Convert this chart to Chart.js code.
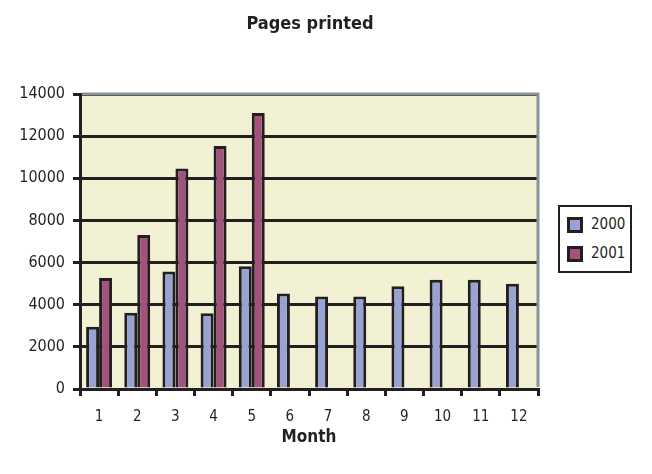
<!DOCTYPE html>
<html>
<head>
<meta charset="utf-8">
<script src="https://cdn.jsdelivr.net/npm/chart.js@4.4.1/dist/chart.umd.min.js"></script>
<style>
  body { margin: 0; background: #fff; }
  #wrap { position: relative; width: 652px; height: 474px; }
  #title { position: absolute; left: 0; width: 620px; top: 12px; text-align: center;
           font: bold 18px "Liberation Sans Narrow", "DejaVu Sans Condensed", sans-serif; color: #231f20; }
  #legend { position: absolute; left: 558px; top: 205px; width: 70px; height: 64px;
            border: 2px solid #231f20; background: #fff;
            font: 15px "Liberation Sans Narrow", "DejaVu Sans Condensed", sans-serif; color: #231f20; }
  .item { position: absolute; left: 7px; height: 16px; line-height: 16px; }
  .sw { display: inline-block; width: 10px; height: 10px; border: 3px solid #231f20; vertical-align: middle; margin-right: 8px; }
</style>
</head>
<body>
<div id="wrap">
  <div id="title">Pages printed</div>
  <canvas id="myChart"></canvas>
  <div id="legend"></div>
</div>
<script>
var months = ['1', '2', '3', '4', '5', '6', '7', '8', '9', '10', '11', '12'];
var seriesNames = ['2000', '2001'];
var pages2000 = [2950, 3620, 5580, 3600, 5820, 4530, 4390, 4390, 4880, 5190, 5190, 5000];
var pages2001 = [5270, 7310, 10460, 11530, 13100, null, null, null, null, null, null, null];
var yTicks = [0, 2000, 4000, 6000, 8000, 10000, 12000, 14000];
var colors = ['#99a3d3', '#a3527b'];

var font = '"Liberation Sans Narrow", "DejaVu Sans Condensed", sans-serif';

// plot background and grey top/right frame
var frame = {
  id: 'frame',
  beforeDraw: function (chart) {
    var a = chart.chartArea, c = chart.ctx;
    c.save();
    c.fillStyle = '#f3f1d3';
    c.fillRect(a.left, a.top, a.right - a.left, a.bottom - a.top);
    c.restore();
  },
  afterDraw: function (chart) {
    var a = chart.chartArea, c = chart.ctx;
    c.save();
    c.strokeStyle = '#8a9399';
    c.lineWidth = 3;
    c.beginPath();
    c.moveTo(a.left + 2, a.top);
    c.lineTo(a.right, a.top);
    c.lineTo(a.right, a.bottom - 2);
    c.stroke();
    c.restore();
  }
};

var canvas = document.getElementById('myChart');
canvas.width = 652;
canvas.height = 474;
var ctx = canvas.getContext('2d');

var myChart = new Chart(ctx, {
  type: 'bar',
  data: {
    labels: months,
    datasets: [{
      label: seriesNames[0],
      data: pages2000,
      backgroundColor: colors[0],
      borderColor: '#231f20',
      borderWidth: 3
    }, {
      label: seriesNames[1],
      data: pages2001,
      backgroundColor: colors[1],
      borderColor: '#231f20',
      borderWidth: 3
    }]
  },
  options: {
    responsive: false,
    animation: false,
    datasets: { bar: { categoryPercentage: 0.68, barPercentage: 1.0 } },
    layout: { padding: { top: 94, right: 114, left: 0, bottom: 0 } },
    plugins: { legend: { display: false }, title: { display: false }, tooltip: { enabled: false } },
    scales: {
      x: {
        afterFit: function (s) { s.height = 85; },
        grid: { drawOnChartArea: false, color: '#231f20', lineWidth: 3, tickLength: 7, offset: true },
        border: { color: '#231f20', width: 3 },
        ticks: { color: '#231f20', font: { family: font, size: 15 }, padding: 12 },
        title: { display: true, text: 'Month', color: '#231f20',
                 font: { family: font, size: 17, weight: 'bold' }, padding: { top: 0, bottom: 26 } }
      },
      y: {
        min: 0,
        max: 14000,
        afterFit: function (s) { s.width = 80; },
        afterBuildTicks: function (s) { s.ticks = yTicks.map(function (v) { return { value: v }; }); },
        grid: { color: '#231f20', lineWidth: 3, tickLength: 7 },
        border: { color: '#231f20', width: 3 },
        ticks: { color: '#231f20', font: { family: font, size: 16 }, padding: 8,
                 callback: function (v) { return String(v); } }
      }
    }
  },
  plugins: [frame]
});

// legend
var legend = document.getElementById('legend');
seriesNames.forEach(function (name, i) {
  var d = document.createElement('div');
  d.className = 'item';
  d.style.top = (i === 0 ? 9 : 38) + 'px';
  d.innerHTML = '<span class="sw" style="background:' + colors[i] + '"></span>' + name;
  legend.appendChild(d);
});
</script>
</body>
</html>
